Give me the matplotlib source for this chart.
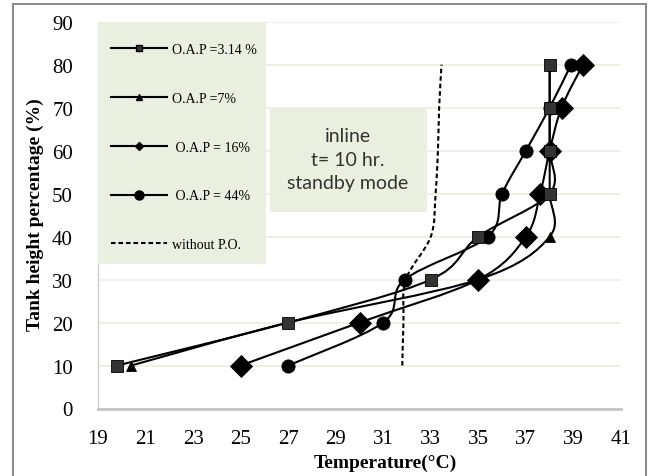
"""
Tank height vs temperature, inline standby mode, t = 10 hr.
"""

import matplotlib
matplotlib.use("Agg")
import matplotlib.pyplot as plt
from matplotlib.lines import Line2D
from matplotlib.patches import PathPatch, Rectangle
from matplotlib.path import Path
import numpy as np

HEIGHTS = [10, 20, 30, 40, 50, 60, 70, 80]
T_OAP_314 = [19.8, 27.0, 33.0, 35.0, 38.0, 38.0, 38.0, 38.0]
T_OAP_7 = [20.4, 27.0, 35.0, 38.0, 38.0, 38.0, 38.0, 38.0]
T_OAP_16 = [25.0, 30.0, 35.0, 37.0, 37.6, 38.0, 38.5, 39.4]
T_OAP_44 = [27.0, 31.0, 31.9, 35.4, 36.0, 37.0, 38.0, 38.9]
T_NO_PO = [31.8, 31.85, 31.95, 33.0, 33.2, 33.3, 33.35, 33.45]

LABELS = ["O.A.P =3.14 %", "O.A.P =7%", " O.A.P = 16%", " O.A.P = 44%",
          "without P.O."]
X_TICKS = list(range(19, 42, 2))
Y_TICKS = list(range(0, 91, 10))

SERIF = ["Liberation Serif", "DejaVu Serif"]
PANEL = "#ebefdf"


def smooth_path(xs, ys):
    """Excel-style smoothed line through the points (cubic Bezier)."""
    pts = np.column_stack([xs, ys]).astype(float)
    n = len(pts)
    verts = [pts[0]]
    codes = [Path.MOVETO]
    for i in range(n - 1):
        p0 = pts[max(i - 1, 0)]
        p1 = pts[i]
        p2 = pts[i + 1]
        p3 = pts[min(i + 2, n - 1)]
        c1 = p1 + (p2 - p0) / 6.0
        c2 = p2 - (p3 - p1) / 6.0
        verts += [c1, c2, p2]
        codes += [Path.CURVE4] * 3
    return Path(verts, codes)


def draw_series(ax, xs, color, marker, ms, ls="-"):
    ax.add_patch(PathPatch(smooth_path(xs, HEIGHTS), fill=False,
                           edgecolor="black", linewidth=1.5, linestyle=ls,
                           zorder=3))
    if marker:
        ax.plot(xs, HEIGHTS, linestyle="none", marker=marker,
                markersize=ms, color=color, markeredgecolor="black",
                markeredgewidth=0.6, zorder=4)


fig = plt.figure(figsize=(6.56, 4.77), dpi=100)
ax = fig.add_axes([98 / 656, 1 - 409.5 / 477, 523 / 656, 386.8 / 477])

draw_series(ax, T_NO_PO, None, None, 0, ls=(0, (2.2, 1.4)))
draw_series(ax, T_OAP_7, "black", "^", 7.5)
draw_series(ax, T_OAP_44, "black", "o", 9.5)
draw_series(ax, T_OAP_16, "black", "D", 11)
draw_series(ax, T_OAP_314, "#333333", "s", 9)

ax.set_xlim(19, 41)
ax.set_ylim(0, 90)
ax.set_xticks(X_TICKS)
ax.set_yticks(Y_TICKS)
ax.tick_params(length=0, labelsize=15)
ax.tick_params(axis="y", pad=18)
ax.tick_params(axis="x", pad=15)
for lab in ax.get_xticklabels() + ax.get_yticklabels():
    lab.set_family(SERIF)
ax.grid(axis="y", color="#ececdf", linewidth=1.2)
ax.set_axisbelow(True)
for side in ("top", "right"):
    ax.spines[side].set_visible(False)
ax.spines["bottom"].set_color("#c4c4c4")
ax.spines["bottom"].set_linewidth(2)
ax.spines["left"].set_color("#cccccc")
ax.spines["left"].set_linewidth(1)

fig.text(385 / 656, 1 - 463 / 477, "Temperature(\u00b0C)", ha="center",
         va="center", fontsize=14, fontweight="bold", family=SERIF)
fig.text(35 / 656, 1 - 215 / 477, "Tank height percentage (%)",
         rotation=90, ha="center", va="center", fontsize=14,
         fontweight="bold", family=SERIF)

# legend panel
fig.patches.append(Rectangle((98 / 656, 1 - 265 / 477), 168 / 656,
                             242 / 477, transform=fig.transFigure,
                             facecolor=PANEL, edgecolor="none", zorder=2))
handles = [
    Line2D([], [], color="black", lw=1.5, marker="s", ms=5,
           markerfacecolor="#333333"),
    Line2D([], [], color="black", lw=1.5, marker="^", ms=5),
    Line2D([], [], color="black", lw=1.5, marker="D", ms=4.5),
    Line2D([], [], color="black", lw=1.5, marker="o", ms=6.5),
    Line2D([], [], color="black", lw=1.5, linestyle=(0, (2.2, 1.4))),
]
leg = fig.legend(handles, LABELS, loc="upper left",
                 bbox_to_anchor=(104 / 656, 1 - 37 / 477), frameon=False,
                 prop={"family": SERIF, "size": 10}, handlelength=4.0,
                 handletextpad=0.4, labelspacing=2.58, borderpad=0)
leg.set_zorder(5)

# annotation panel
fig.patches.append(Rectangle((270 / 656, 1 - 213 / 477), 157 / 656,
                             103 / 477, transform=fig.transFigure,
                             facecolor=PANEL, edgecolor="none", zorder=2))
fig.text(348 / 656, 1 - 160 / 477, "inline\nt= 10 hr.\nstandby mode",
         ha="center", va="center", fontsize=14, family="Lato",
         color="#333333", linespacing=1.5, zorder=5)

# outer frame
fig.patches.append(Rectangle((13 / 656, -0.02), 633 / 656, 1 - 5 / 477 + 0.02,
                             transform=fig.transFigure, facecolor="none",
                             edgecolor="#8c8c8c", linewidth=1.5, zorder=6))

fig.savefig("out.png", dpi=100)
